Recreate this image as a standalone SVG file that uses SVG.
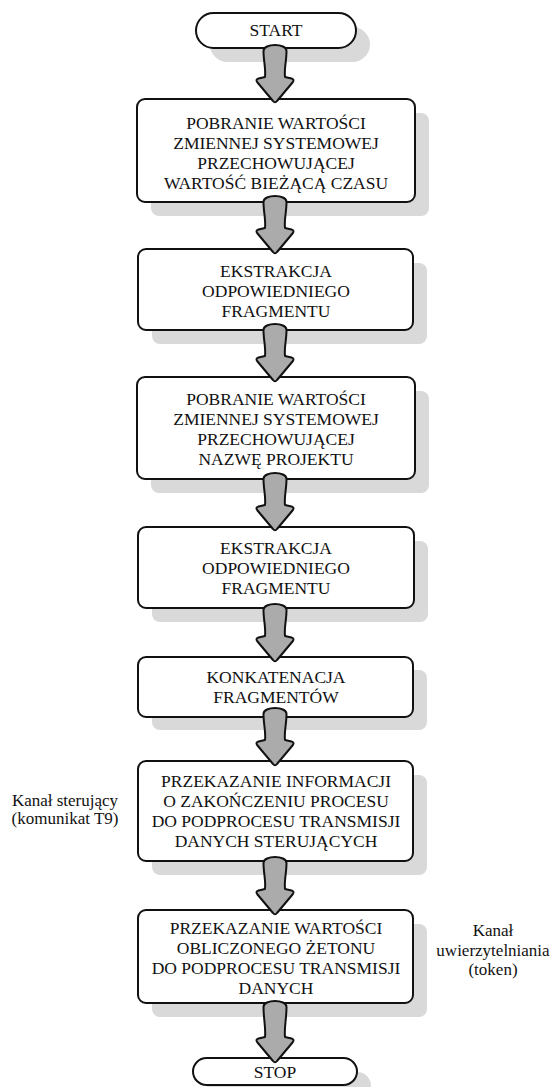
<svg xmlns="http://www.w3.org/2000/svg" xmlns:xlink="http://www.w3.org/1999/xlink" width="554" height="1087" viewBox="0 0 554 1087">
  <style>
    .shadow { fill: #d9d9d9; stroke: none; }
    .box { fill: #ffffff; stroke: #111111; stroke-width: 2; }
    .label { font-family: "Liberation Serif", "Times New Roman", serif; font-size: 17.5px; fill: #111111; text-anchor: middle; }
    .side { font-family: "Liberation Serif", "Times New Roman", serif; font-size: 17px; fill: #111111; text-anchor: middle; }
    .arrow { fill: #ababab; stroke: #111111; stroke-width: 2; stroke-linejoin: round; }
  </style>
  <defs>
    <!-- block arrow, 58 px tall, centred on x = 275 -->
    <path id="arrow" class="arrow" d="M 263.5 7 C 263.5 -1, 286.5 -1, 286.5 7 C 286.5 17, 284 25, 285 33 L 291.5 34.5 Q 295 35.5, 292.5 38.5 L 277 57 Q 275 59.5, 273 57 L 257.5 38.5 Q 255 35.5, 258.5 34.5 L 265 33 C 266 25, 263.5 17, 263.5 7 Z"/>
  </defs>
  <rect width="554" height="1087" fill="#ffffff"/>

  <g id="start">
    <rect class="shadow" x="210" y="27" width="160" height="35" rx="17.5"/>
    <rect class="box" x="196" y="13" width="160" height="35" rx="17.5"/>
    <text class="label" x="276" y="36">START</text>
  </g>

  <g id="get-time">
    <rect class="shadow" x="151" y="113" width="278" height="103" rx="8"/>
    <rect class="box" x="137" y="99" width="278" height="103" rx="8"/>
    <text class="label" x="276" y="129">POBRANIE WARTOŚCI</text>
    <text class="label" x="276" y="149">ZMIENNEJ SYSTEMOWEJ</text>
    <text class="label" x="276" y="169">PRZECHOWUJĄCEJ</text>
    <text class="label" x="276" y="189">WARTOŚĆ BIEŻĄCĄ CZASU</text>
  </g>

  <g id="extract-1">
    <rect class="shadow" x="152" y="263" width="275" height="81" rx="8"/>
    <rect class="box" x="138" y="249" width="275" height="81" rx="8"/>
    <text class="label" x="276" y="277">EKSTRAKCJA</text>
    <text class="label" x="276" y="297">ODPOWIEDNIEGO</text>
    <text class="label" x="276" y="317">FRAGMENTU</text>
  </g>

  <g id="get-project">
    <rect class="shadow" x="151" y="391" width="278" height="102" rx="8"/>
    <rect class="box" x="137" y="377" width="278" height="102" rx="8"/>
    <text class="label" x="276" y="405">POBRANIE WARTOŚCI</text>
    <text class="label" x="276" y="425">ZMIENNEJ SYSTEMOWEJ</text>
    <text class="label" x="276" y="445">PRZECHOWUJĄCEJ</text>
    <text class="label" x="276" y="465">NAZWĘ PROJEKTU</text>
  </g>

  <g id="extract-2">
    <rect class="shadow" x="152" y="541" width="276" height="81" rx="8"/>
    <rect class="box" x="138" y="527" width="276" height="81" rx="8"/>
    <text class="label" x="276" y="554">EKSTRAKCJA</text>
    <text class="label" x="276" y="574">ODPOWIEDNIEGO</text>
    <text class="label" x="276" y="594">FRAGMENTU</text>
  </g>

  <g id="concat">
    <rect class="shadow" x="152" y="670" width="275" height="60" rx="8"/>
    <rect class="box" x="138" y="657" width="275" height="60" rx="8"/>
    <text class="label" x="276" y="683">KONKATENACJA</text>
    <text class="label" x="276" y="703">FRAGMENTÓW</text>
  </g>

  <g id="notify-end">
    <rect class="shadow" x="152" y="775" width="275" height="100" rx="8"/>
    <rect class="box" x="138" y="761" width="275" height="100" rx="8"/>
    <text class="label" x="276" y="787">PRZEKAZANIE INFORMACJI</text>
    <text class="label" x="276" y="807">O ZAKOŃCZENIU PROCESU</text>
    <text class="label" x="276" y="827">DO PODPROCESU TRANSMISJI</text>
    <text class="label" x="276" y="847">DANYCH STERUJĄCYCH</text>
  </g>

  <g id="send-token">
    <rect class="shadow" x="152" y="924" width="275" height="93" rx="8"/>
    <rect class="box" x="138" y="910" width="275" height="93" rx="8"/>
    <text class="label" x="276" y="934">PRZEKAZANIE WARTOŚCI</text>
    <text class="label" x="276" y="954">OBLICZONEGO ŻETONU</text>
    <text class="label" x="276" y="974">DO PODPROCESU TRANSMISJI</text>
    <text class="label" x="276" y="994">DANYCH</text>
  </g>

  <g id="stop">
    <rect class="shadow" x="207" y="1072" width="164" height="28" rx="14"/>
    <rect class="box" x="193" y="1058" width="164" height="27" rx="13.5"/>
    <text class="label" x="275" y="1078">STOP</text>
  </g>

  <g id="control-channel">
    <text class="side" x="65" y="806">Kanał sterujący</text>
    <text class="side" x="65" y="824">(komunikat T9)</text>
  </g>

  <g id="auth-channel">
    <text class="side" x="493" y="936">Kanał</text>
    <text class="side" x="493" y="956">uwierzytelniania</text>
    <text class="side" x="493" y="975">(token)</text>
  </g>

  <g id="connectors">
    <use xlink:href="#arrow" transform="translate(0,44)"/>
    <use xlink:href="#arrow" transform="translate(0,195)"/>
    <use xlink:href="#arrow" transform="translate(0,323)"/>
    <use xlink:href="#arrow" transform="translate(0,472)"/>
    <use xlink:href="#arrow" transform="translate(0,603)"/>
    <use xlink:href="#arrow" transform="translate(0,707)"/>
    <use xlink:href="#arrow" transform="translate(0,856)"/>
    <path class="arrow" d="M 263.5 1007 C 263.5 999, 286.5 999, 286.5 1007 C 286.5 1019, 284 1028, 285 1037 L 291.5 1038.5 Q 295 1039.5, 292.5 1042.5 L 277 1061 Q 275 1063.5, 273 1061 L 257.5 1042.5 Q 255 1039.5, 258.5 1038.5 L 265 1037 C 266 1028, 263.5 1019, 263.5 1007 Z"/>
  </g>
</svg>
